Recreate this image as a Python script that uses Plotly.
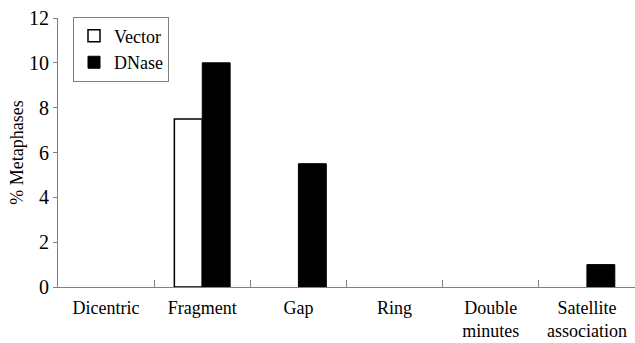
import plotly.graph_objects as go

categories = ["Dicentric", "Fragment", "Gap", "Ring", "Double<br>minutes", "Satellite<br>association"]
vector_vals = [0, 7.5, 0, 0, 0, 0]
dnase_vals = [0, 10, 5.5, 0, 0, 1]
y_ticks = [0, 2, 4, 6, 8, 10, 12]

font_family = "Liberation Serif, Times New Roman, serif"


def hide_zero(vals):
    return [v if v else None for v in vals]


fig = go.Figure()
fig.add_trace(go.Bar(x=categories, y=hide_zero(vector_vals), name="Vector",
                     marker=dict(color="white", line=dict(color="black", width=1.5))))
fig.add_trace(go.Bar(x=categories, y=hide_zero(dnase_vals), name="DNase",
                     marker=dict(color="black", line=dict(color="black", width=1))))

fig.update_layout(
    width=635, height=343,
    margin=dict(l=58, r=0, t=18, b=56),
    paper_bgcolor="white", plot_bgcolor="white",
    barmode="group", bargap=0.42, bargroupgap=0,
    font=dict(family=font_family, size=18, color="black"),
    showlegend=True,
    legend=dict(x=0.026, y=1.005, xanchor="left", yanchor="top",
                bordercolor="#808080", borderwidth=1, bgcolor="white",
                font=dict(size=18), itemwidth=30,
                tracegroupgap=0),
    xaxis=dict(showline=True, linecolor="#808080", linewidth=1,
               ticks="inside", tickson="boundaries", ticklen=7, tickcolor="#808080",
               showgrid=False, zeroline=False, range=[-0.5, 5.5],
               tickfont=dict(size=18), ticklabelstandoff=4),
    yaxis=dict(title=dict(text="% Metaphases", font=dict(size=18), standoff=0),
               range=[0, 12], tickvals=y_ticks, showline=True, linecolor="#808080",
               linewidth=1, ticks="outside", ticklen=4, tickcolor="#808080",
               showgrid=False, zeroline=False, tickfont=dict(size=20)),
)

fig.write_html("out.html", config={"displayModeBar": False},
               post_script="document.body.style.margin='0';document.body.style.overflow='hidden';")
